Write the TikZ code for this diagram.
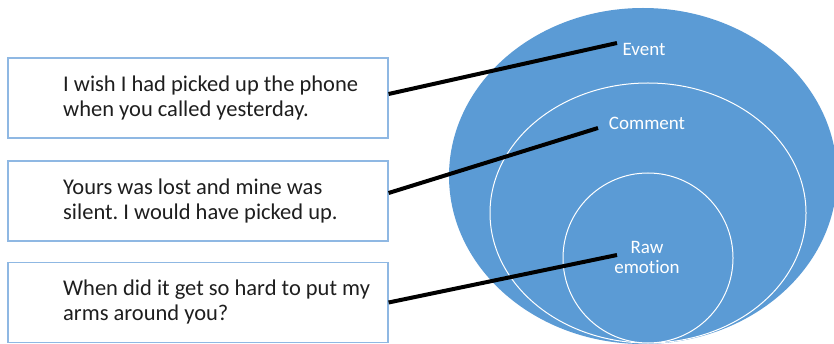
\documentclass[tikz,border=0pt]{standalone}
\usepackage{fontspec}
\setmainfont{Carlito}[Ligatures=NoCommon]
\usetikzlibrary{shapes.geometric,calc}
\definecolor{fillblue}{HTML}{5B9BD5}
\definecolor{edgeblue}{HTML}{8FB8E3}
\definecolor{txt}{HTML}{1E1E1E}
\begin{document}
\frenchspacing
\begin{tikzpicture}[x=1pt,y=-1pt,
  quotebox/.style={draw=edgeblue,line width=1.2pt,minimum width=380pt,minimum height=80pt,inner sep=0pt},
  quotetext/.style={anchor=west,align=left,text=txt,inner sep=0pt,font=\fontsize{22.5}{25}\selectfont},
  ring/.style={ellipse,draw=white,line width=1pt,fill=fillblue,inner sep=0pt},
  lab/.style={text=white,align=center,inner sep=0pt,font=\fontsize{19}{20}\selectfont},
  conn/.style={line width=4pt,black}]
\useasboundingbox (0,0) rectangle (834,344);
\clip (0,0) rectangle (834,344);
\fill[white] (0,0) rectangle (834,344);
% rings
\node[ring,draw=none,minimum width=388pt,minimum height=336pt] (outer) at (643,176) {};
\node[ring,minimum width=316pt,minimum height=260pt] (middle) at (648,213) {};
\node[circle,draw=white,line width=1pt,fill=fillblue,inner sep=0pt,minimum size=170pt] (inner) at (648,258) {};
% labels
\node[lab] (ev) at (644,49) {Event};
\node[lab] (cm) at (647,123) {Comment};
\node[lab] (re) at (647,257) {Raw\\emotion};
% boxes
\node[quotebox] (b1) at (198,98) {};
\node[quotebox] (b2) at (198,201) {};
\node[quotebox] (b3) at (198,302.5) {};
\node[quotetext] (t1) at (63,98) {I wish I had picked up the phone\\when you called yesterday.};
\node[quotetext] (t2) at (63,201) {Yours was lost and mine was\\silent. I would have picked up.};
\node[quotetext] (t3) at (63,302.5) {When did it get so hard to put my\\arms around you?};
% connector ends
\coordinate (e1) at (617,43);
\coordinate (e2) at (598,128);
\coordinate (e3) at (617,255);
\draw[conn] ($(b1.east)+(0,-4)$) -- (e1);
\draw[conn] ($(b2.east)+(0,-8)$) -- (e2);
\draw[conn] (b3.east) -- (e3);
\end{tikzpicture}
\end{document}
